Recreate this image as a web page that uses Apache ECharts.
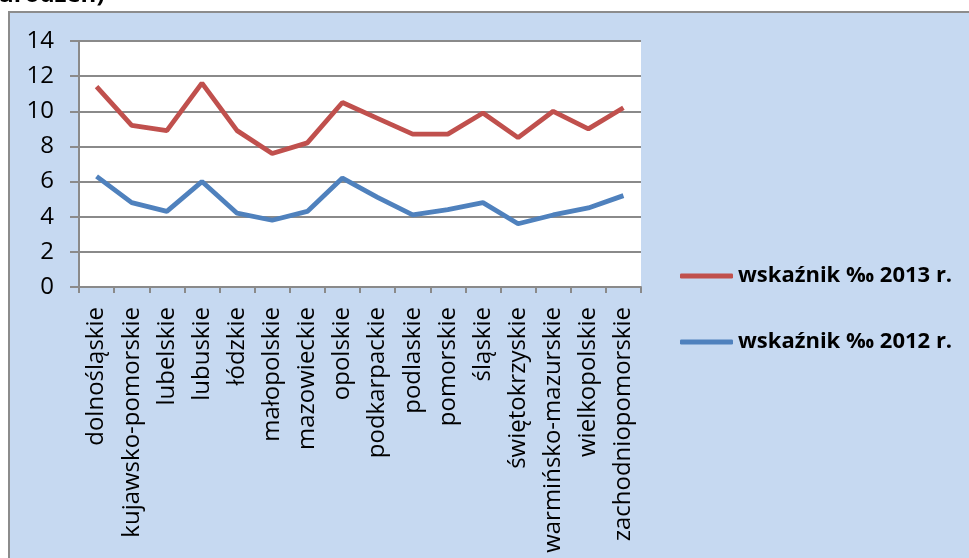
<!DOCTYPE html>
<html>
<head>
<meta charset="utf-8">
<script src="https://cdn.jsdelivr.net/npm/echarts@6/dist/echarts.min.js"></script>
<style>
	html, body { margin: 0; padding: 0; background: #fff; }
	#chart { width: 969px; height: 558px; }
</style>
</head>
<body>
<div id="chart"></div>
<script>
// wojewodztwa
const regions = ['dolnośląskie', 'kujawsko-pomorskie', 'lubelskie', 'lubuskie', 'łódzkie', 'małopolskie', 'mazowieckie', 'opolskie', 'podkarpackie', 'podlaskie', 'pomorskie', 'śląskie', 'świętokrzyskie', 'warmińsko-mazurskie', 'wielkopolskie', 'zachodniopomorskie']
const rate2013 = [11.4, 9.2, 8.9, 11.6, 8.9, 7.6, 8.2, 10.5, 9.6, 8.7, 8.7, 9.9, 8.5, 10.0, 9.0, 10.2]
const rate2012 = [6.3, 4.8, 4.3, 6.0, 4.2, 3.8, 4.3, 6.2, 5.1, 4.1, 4.4, 4.8, 3.6, 4.1, 4.5, 5.2]
const seriesNames = ['wskaźnik ‰ 2013 r.', 'wskaźnik ‰ 2012 r.']

const font = '"Open Sans", sans-serif'
const gridColor = '#8a8a8a'

const chart = echarts.init(document.getElementById('chart'))
chart.setOption({
	animation: false,
	backgroundColor: '#fff',
	graphic: [
		{
			type: 'rect',
			z: -10,
			shape: { x: 9, y: 12, width: 980, height: 560 },
			style: { fill: '#c6d9f1', stroke: '#8c8c8c', lineWidth: 2 }
		},
		{
			type: 'text',
			left: -2,
			top: -17,
			style: { text: 'urodzeń)', font: 'bold 24px ' + font, fill: '#000' }
		}
	],
	legend: {
		orient: 'vertical',
		left: 680,
		top: 265,
		padding: 0,
		itemGap: 44,
		itemWidth: 53,
		itemHeight: 5,
		icon: 'roundRect',
		textStyle: {
			fontFamily: font,
			fontWeight: 'bold',
			fontSize: 22,
			color: '#000'
		},
		data: seriesNames
	},
	grid: {
		left: 79,
		right: 328,
		top: 41,
		bottom: 271,
		show: true,
		backgroundColor: '#fff',
		borderWidth: 0
	},
	xAxis: {
		type: 'category',
		data: regions,
		boundaryGap: true,
		axisLine: { lineStyle: { color: gridColor, width: 2 } },
		axisTick: { show: true, length: 6, lineStyle: { color: gridColor, width: 2 } },
		axisLabel: {
			rotate: 90,
			interval: 0,
			margin: 20,
			fontFamily: font,
			fontSize: 24,
			color: '#000'
		}
	},
	yAxis: {
		type: 'value',
		min: 0,
		max: 14,
		interval: 2,
		axisLine: { show: true, lineStyle: { color: gridColor, width: 2 } },
		axisTick: { show: true, inside: false, length: 9, lineStyle: { color: gridColor, width: 2 } },
		splitLine: { lineStyle: { color: gridColor, width: 2 } },
		axisLabel: {
			margin: 25,
			fontFamily: font,
			fontSize: 24,
			color: '#000'
		}
	},
	series: [
		{
			name: seriesNames[0],
			type: 'line',
			data: rate2013,
			symbol: 'none',
			itemStyle: { color: '#c0504d' },
			lineStyle: { color: '#c0504d', width: 4.8 }
		},
		{
			name: seriesNames[1],
			type: 'line',
			data: rate2012,
			symbol: 'none',
			itemStyle: { color: '#4f81bd' },
			lineStyle: { color: '#4f81bd', width: 4.8 }
		}
	]
})
</script>
</body>
</html>
